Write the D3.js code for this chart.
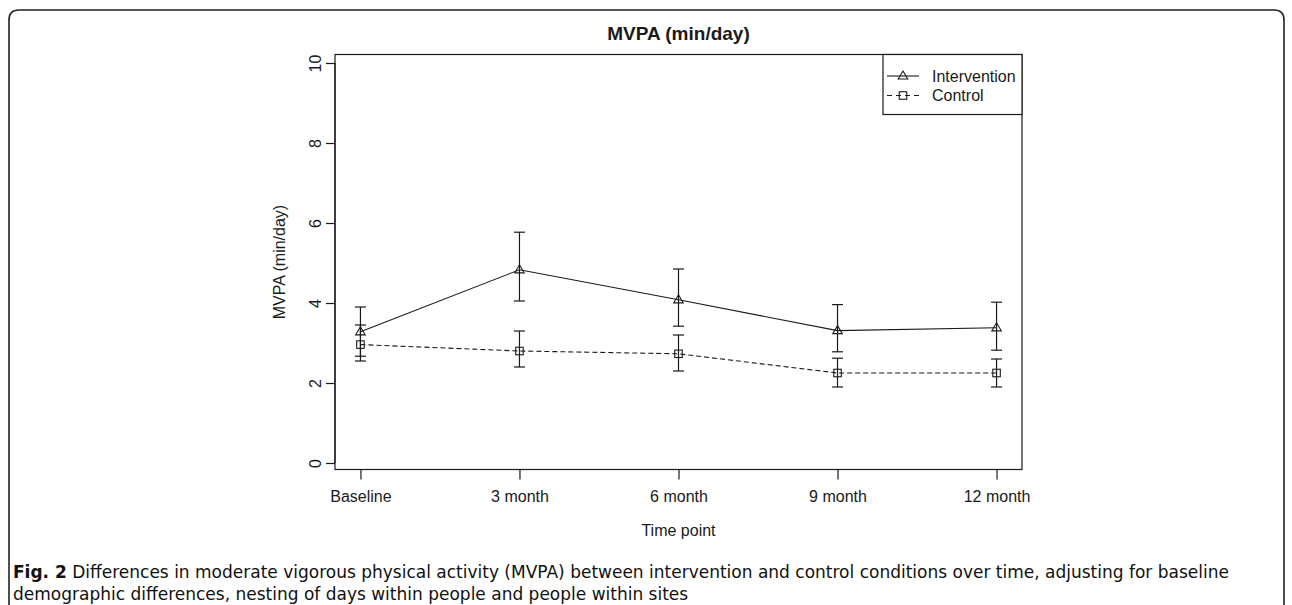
<!DOCTYPE html>
<html>
<head>
<meta charset="utf-8">
<script src="https://cdn.jsdelivr.net/npm/d3@7"></script>
<style>
  html, body { margin: 0; padding: 0; background: #fff; }
  svg { display: block; }
</style>
</head>
<body>
<svg id="chart" width="1292" height="605"></svg>
<script>
// ---------- data ----------
const timePoints = ["Baseline", "3 month", "6 month", "9 month", "12 month"];
const intervention = [3.28, 4.83, 4.08, 3.31, 3.38];
const interventionLow = [2.67, 4.05, 3.42, 2.78, 2.82];
const interventionHigh = [3.90, 5.77, 4.85, 3.96, 4.02];
const control = [2.96, 2.80, 2.73, 2.25, 2.25];
const controlLow = [2.55, 2.40, 2.30, 1.90, 1.90];
const controlHigh = [3.45, 3.30, 3.20, 2.62, 2.60];
const yTicks = [0, 2, 4, 6, 8, 10];
const seriesNames = ["Intervention", "Control"];
const titleText = "MVPA (min/day)";
const xTitle = "Time point";
const yTitle = "MVPA (min/day)";
const captionBold = "Fig. 2";
const captionLine1 = " Differences in moderate vigorous physical activity (MVPA) between intervention and control conditions over time, adjusting for baseline";
const captionLine2 = "demographic differences, nesting of days within people and people within sites";

// ---------- layout ----------
const svg = d3.select("#chart");
const plotFont = "'Liberation Sans', Arial, Helvetica, sans-serif";
const ink = "#1a1a1a";
const box = { left: 335, right: 1022, top: 54.5, bottom: 469.5 };

const idx = timePoints.map((d, i) => i + 1);
const x = d3.scaleLinear().domain([0.84, 5.16]).range([box.left, box.right]);
const y = d3.scaleLinear().domain([0, 10]).range([463, 63]);

// frame of the figure
const fr = { l: 9, t: 10, r: 1284, b: 640, rad: 10 };
svg.append("path")
  .attr("d", `M${fr.l},${fr.b} L${fr.l},${fr.t + fr.rad} Q${fr.l},${fr.t} ${fr.l + fr.rad},${fr.t} L${fr.r - fr.rad},${fr.t} Q${fr.r},${fr.t} ${fr.r},${fr.t + fr.rad} L${fr.r},${fr.b}`)
  .attr("fill", "none").attr("stroke", "#222").attr("stroke-width", 1.6);

// plot box
svg.append("rect")
  .attr("x", box.left).attr("y", box.top)
  .attr("width", box.right - box.left).attr("height", box.bottom - box.top)
  .attr("fill", "none").attr("stroke", ink).attr("stroke-width", 1.2);

// y axis
const yAxis = d3.axisLeft(y).tickValues(yTicks).tickSize(9).tickPadding(0).tickFormat(d3.format("d"));
const gy = svg.append("g").attr("transform", `translate(${box.left},0)`).call(yAxis);
gy.select(".domain").attr("d", `M0,${y(0)}V${y(10)}`).attr("stroke", ink).attr("stroke-width", 1.2);
gy.selectAll(".tick line").attr("stroke", ink).attr("stroke-width", 1.2);
gy.selectAll(".tick text")
  .attr("x", null).attr("dy", null)
  .attr("transform", "translate(-14,0) rotate(-90)")
  .attr("text-anchor", "middle")
  .attr("font-family", plotFont).attr("font-size", 16).attr("fill", ink);

// x axis
const xAxis = d3.axisBottom(x).tickValues(idx).tickSize(10).tickPadding(0)
  .tickFormat((d) => timePoints[d - 1]);
const gx = svg.append("g").attr("transform", `translate(0,${box.bottom})`).call(xAxis);
gx.select(".domain").attr("d", `M${x(1)},0H${x(5)}`).attr("stroke", ink).attr("stroke-width", 1.2);
gx.selectAll(".tick line").attr("stroke", ink).attr("stroke-width", 1.2);
gx.selectAll(".tick text")
  .attr("y", 32).attr("dy", null)
  .attr("font-family", plotFont).attr("font-size", 16).attr("fill", ink);

// titles
svg.append("text").attr("x", (box.left + box.right) / 2).attr("y", 40)
  .attr("text-anchor", "middle").attr("font-family", plotFont)
  .attr("font-weight", "bold").attr("font-size", 19).attr("fill", ink).text(titleText);
svg.append("text").attr("x", (box.left + box.right) / 2).attr("y", 536)
  .attr("text-anchor", "middle").attr("font-family", plotFont)
  .attr("font-size", 16).attr("fill", ink).text(xTitle);
svg.append("text")
  .attr("transform", `translate(285,${(box.top + box.bottom) / 2}) rotate(-90)`)
  .attr("text-anchor", "middle").attr("font-family", plotFont)
  .attr("font-size", 16).attr("fill", ink).text(yTitle);

// series
const series = [
  { name: seriesNames[0], vals: intervention, lo: interventionLow, hi: interventionHigh, dash: null, shape: "tri" },
  { name: seriesNames[1], vals: control, lo: controlLow, hi: controlHigh, dash: "5,3", shape: "sq" }
];

const line = d3.line().x((d) => x(d[0])).y((d) => y(d[1]));
const cap = 5.5;

function drawSymbol(g, shape, cx, cy) {
  if (shape === "tri") {
    const h = 8, w = 9.5;
    g.append("path")
      .attr("d", `M${cx},${cy - h * 0.62} L${cx + w / 2},${cy + h * 0.38} L${cx - w / 2},${cy + h * 0.38} Z`)
      .attr("fill", "none").attr("stroke", ink).attr("stroke-width", 1.1);
  } else {
    const s = 7.5;
    g.append("rect").attr("x", cx - s / 2).attr("y", cy - s / 2).attr("width", s).attr("height", s)
      .attr("fill", "none").attr("stroke", ink).attr("stroke-width", 1.1);
  }
}

series.forEach((s) => {
  const g = svg.append("g");
  const pts = s.vals.map((v, i) => [idx[i], v]);
  g.append("path").attr("d", line(pts)).attr("fill", "none")
    .attr("stroke", ink).attr("stroke-width", 1.1)
    .attr("stroke-dasharray", s.dash);
  s.vals.forEach((v, i) => {
    const cx = x(idx[i]);
    g.append("line").attr("x1", cx).attr("x2", cx).attr("y1", y(s.lo[i])).attr("y2", y(s.hi[i]))
      .attr("stroke", ink).attr("stroke-width", 1.2);
    [s.lo[i], s.hi[i]].forEach((e) => {
      g.append("line").attr("x1", cx - cap).attr("x2", cx + cap).attr("y1", y(e)).attr("y2", y(e))
        .attr("stroke", ink).attr("stroke-width", 1.2);
    });
    drawSymbol(g, s.shape, cx, y(v));
  });
});

// legend
const lg = { left: 883, top: box.top, right: box.right, bottom: 114.5 };
svg.append("rect").attr("x", lg.left).attr("y", lg.top)
  .attr("width", lg.right - lg.left).attr("height", lg.bottom - lg.top)
  .attr("fill", "#fff").attr("stroke", ink).attr("stroke-width", 1.2);
series.forEach((s, i) => {
  const cy = 76 + i * 19.5;
  const g = svg.append("g");
  g.append("line").attr("x1", 887).attr("x2", 919).attr("y1", cy).attr("y2", cy)
    .attr("stroke", ink).attr("stroke-width", 1.1).attr("stroke-dasharray", s.dash ? "5,4" : null);
  drawSymbol(g, s.shape, 903, cy);
  g.append("text").attr("x", 932).attr("y", cy + 5.5)
    .attr("font-family", plotFont).attr("font-size", 16).attr("fill", ink).text(s.name);
});

// caption: font size fitted so the first line spans the reference width
const capFont = "'DejaVu Sans', 'Open Sans', sans-serif";
const c1 = svg.append("text").attr("x", 13).attr("y", 578)
  .attr("font-family", capFont).attr("font-size", 15).attr("fill", "#111");
c1.append("tspan").attr("font-weight", "bold").text(captionBold);
c1.append("tspan").text(captionLine1);
const c2 = svg.append("text").attr("x", 13).attr("y", 599.5)
  .attr("font-family", capFont).attr("font-size", 15).attr("fill", "#111").text(captionLine2);
const w1 = c1.node().getComputedTextLength();
const fs = Math.max(14, Math.min(17, 15 * 1245 / w1));
c1.attr("font-size", fs);
c2.attr("font-size", fs);
</script>
</body>
</html>
